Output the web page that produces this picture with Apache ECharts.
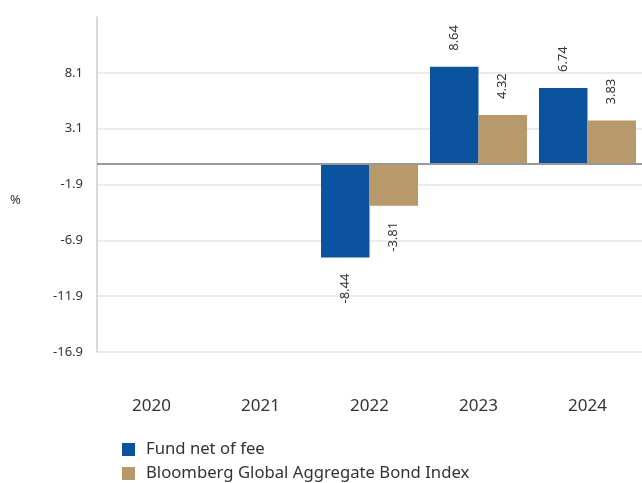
<!DOCTYPE html>
<html>
<head>
<meta charset="utf-8">
<script src="https://cdn.jsdelivr.net/npm/echarts@6/dist/echarts.min.js"></script>
<style>
  html, body { margin: 0; padding: 0; background: #fff; }
  #main { width: 642px; height: 483px; }
</style>
</head>
<body>
<div id="main"></div>
<script>
// data
var years = ['2020', '2021', '2022', '2023', '2024'];
var fundNetOfFee = [null, null, -8.44, 8.64, 6.74];
var bloombergIndex = [null, null, -3.81, 4.32, 3.83];
var seriesNames = ['Fund net of fee', 'Bloomberg Global Aggregate Bond Index'];
var seriesColors = ['#0b539e', '#b8996b'];

var fontName = '"Noto Sans", "Open Sans", sans-serif';

// label sits outside the bar, rotated, on the side away from zero
function toItems(values) {
  return values.map(function (v) {
    if (v == null) return null;
    return {
      value: v,
      label: {
        show: true,
        position: v >= 0 ? 'top' : 'bottom',
        rotate: 90,
        align: v >= 0 ? 'left' : 'right',
        verticalAlign: 'middle',
        distance: 16,
        color: '#333',
        fontSize: 13,
        fontFamily: fontName
      }
    };
  });
}

// one legend per entry so they stack like the original
function legendFor(name, top) {
  return {
    left: 117,
    top: top,
    itemWidth: 13,
    itemHeight: 13,
    icon: 'rect',
    textStyle: { color: '#333', fontSize: 16.7, fontFamily: fontName, padding: [0, 0, 0, 6] },
    data: [name]
  };
}

var myChart = echarts.init(document.getElementById('main'));
myChart.setOption({
  animation: false,
  color: seriesColors,
  grid: { left: 97, right: 0, top: 17, bottom: 131 },
  legend: [legendFor(seriesNames[0], 436), legendFor(seriesNames[1], 460)],
  xAxis: {
    type: 'category',
    data: years,
    axisLine: { show: false },
    axisTick: { show: false },
    axisLabel: { margin: 46, color: '#333', fontSize: 17, fontFamily: fontName }
  },
  yAxis: {
    type: 'value',
    min: -16.9,
    max: 13.1,
    interval: 5,
    axisLine: { show: true, lineStyle: { color: '#ccc', width: 1.5 } },
    axisTick: { show: false },
    axisLabel: {
      showMaxLabel: false,
      margin: 14,
      color: '#333',
      fontSize: 13,
      fontFamily: fontName,
      formatter: function (v) { return v.toFixed(1); }
    },
    splitLine: { showMaxLine: false, lineStyle: { color: '#e4e4e4', width: 1.5 } }
  },
  graphic: [{
    type: 'text',
    left: 10,
    top: 194,
    style: { text: '%', fill: '#333', fontSize: 13, fontFamily: fontName }
  }],
  series: [
    {
      name: seriesNames[0],
      type: 'bar',
      barGap: 0,
      barCategoryGap: '11%',
      data: toItems(fundNetOfFee),
      markLine: {
        silent: true,
        symbol: 'none',
        label: { show: false },
        lineStyle: { color: '#999', width: 2, type: 'solid' },
        data: [{ yAxis: 0 }]
      }
    },
    {
      name: seriesNames[1],
      type: 'bar',
      barGap: 0,
      barCategoryGap: '11%',
      data: toItems(bloombergIndex)
    }
  ]
});
</script>
</body>
</html>
